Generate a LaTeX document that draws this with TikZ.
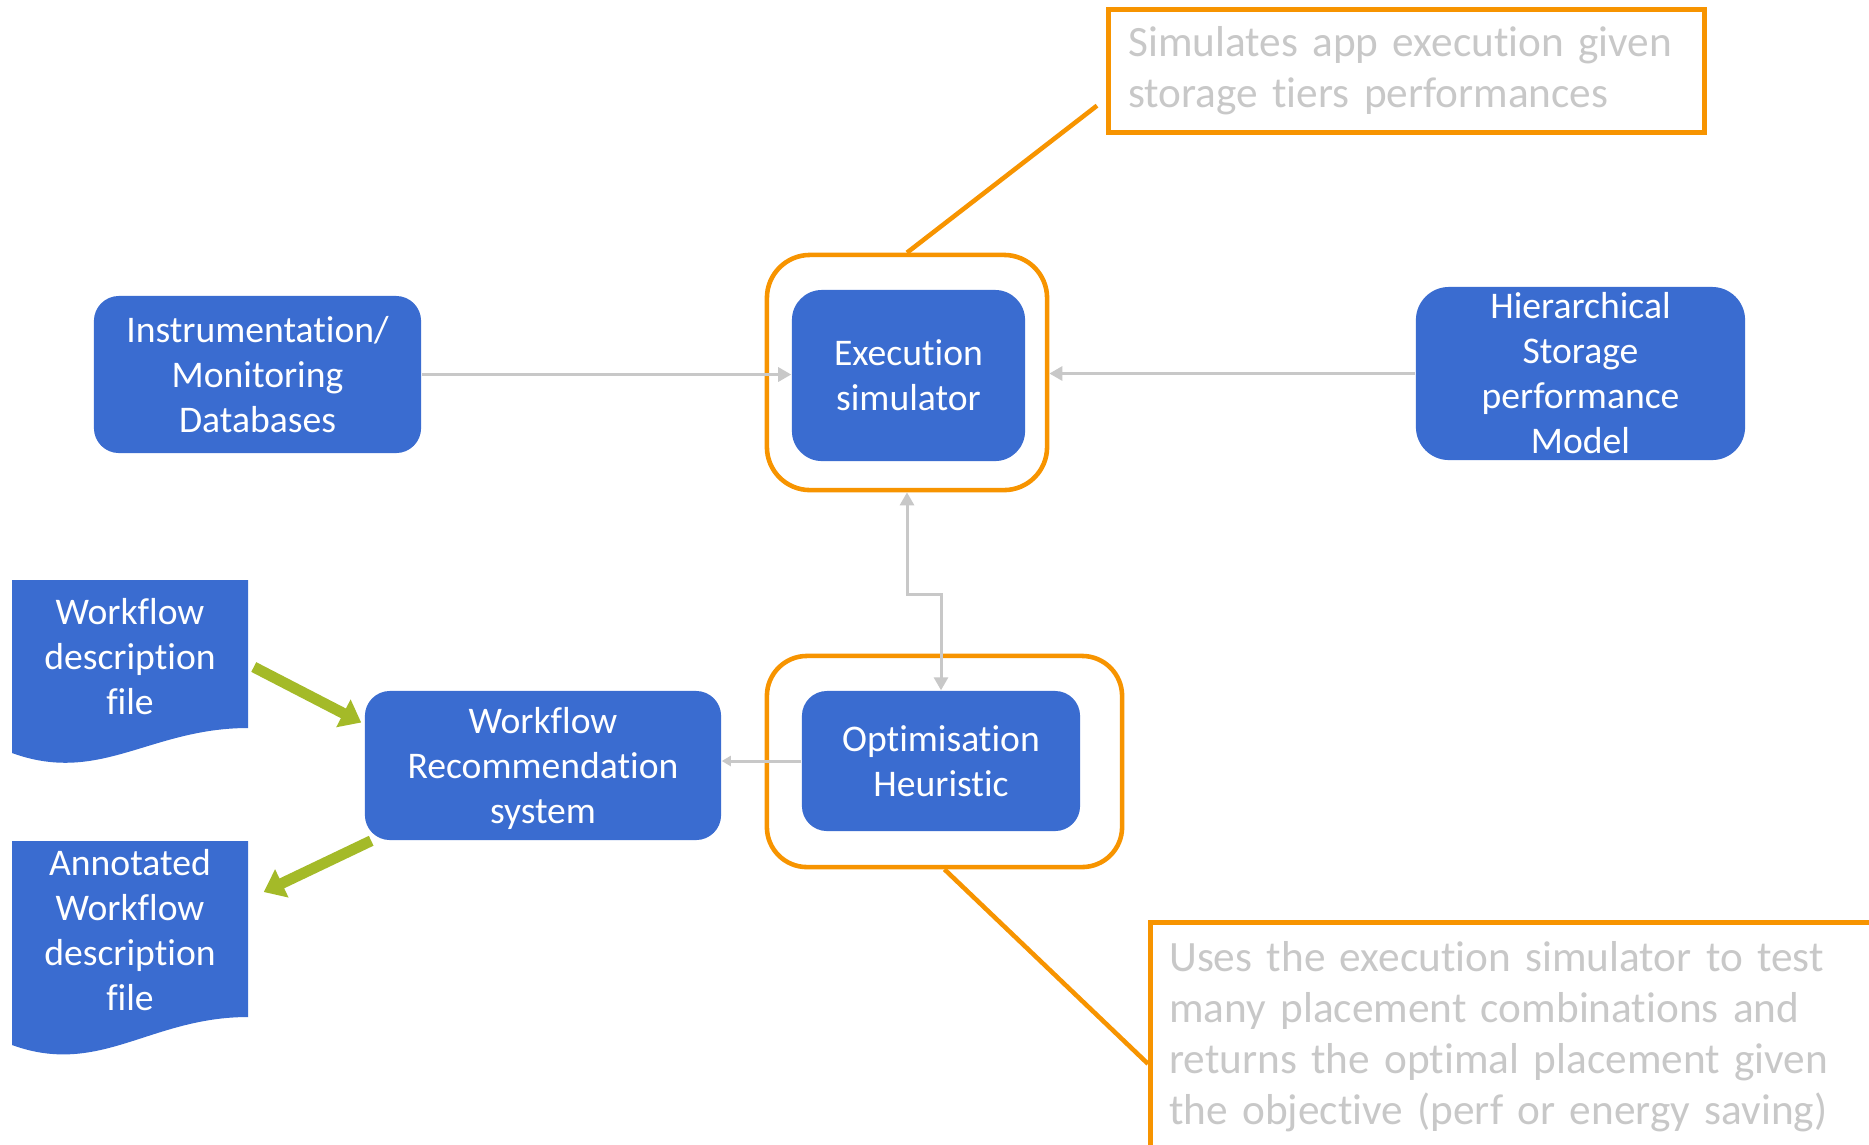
\documentclass[tikz,border=0pt]{standalone}
\usepackage{fontspec}
\setmainfont{Carlito}[RawFeature={-liga,-calt,-clig}]
\newfontfamily\notefont{Carlito}[RawFeature={-liga,-calt,-clig},WordSpace=0.8]
\usepackage{tikz}
\usetikzlibrary{arrows.meta,calc}

\definecolor{boxblue}{RGB}{58,108,208}
\definecolor{hiorange}{RGB}{247,148,0}
\definecolor{flowgreen}{RGB}{164,186,40}
\definecolor{linkgray}{RGB}{200,200,200}

\begin{document}
\begin{tikzpicture}[x=0.01cm,y=-0.01cm,
  block/.style={fill=boxblue,text=white,rounded corners=2.5mm,align=center,inner sep=0pt,
    font=\fontsize{10.7}{12.8}\selectfont},
  frame/.style={draw=hiorange,line width=1.3pt,rounded corners=4.3mm,inner sep=0pt},
  note/.style={draw=hiorange,line width=1.3pt,text=linkgray,align=left,inner ysep=0pt,
    anchor=north west,font=\notefont\fontsize{12.3}{14.5}\selectfont},
  link/.style={draw=linkgray,line width=0.85pt,-{Triangle[length=1.3mm,width=1.4mm]}},
  feed/.style={draw=flowgreen,line width=3.1pt,-{Triangle[length=2mm,width=3mm]}}]
\fill[white] (0,0) rectangle (1869,1144);
\useasboundingbox (0,0) rectangle (1869,1144);

% main blocks
\node[block,minimum width=3.27cm,minimum height=1.57cm] (instr) at (257.5,374.5) {Instrumentation/\\Monitoring\\Databases};
\node[frame,minimum width=2.80cm,minimum height=2.35cm] (simframe) at (907,372.5) {};
\node[block,minimum width=2.33cm,minimum height=1.71cm,rounded corners=3mm] (sim) at (908.5,375.5) {Execution\\simulator};
\node[block,minimum width=3.29cm,minimum height=1.73cm,rounded corners=3.3mm] (hsm) at (1580.5,373.5) {Hierarchical\\Storage\\performance\\Model};
\node[frame,minimum width=3.55cm,minimum height=2.11cm,rounded corners=4mm] (optframe) at (944.5,761.5) {};
\node[block,minimum width=2.78cm,minimum height=1.40cm] (opt) at (941,761) {Optimisation\\Heuristic};
\node[block,minimum width=3.56cm,minimum height=1.49cm,text depth=-6pt] (wrs) at (543,765.5) {Workflow\\Recommendation\\system};

% document shapes
\fill[boxblue] (12,580) -- (248,580) -- (248,728) .. controls (150,728) and (100,785) .. (12,753) -- cycle;
\node[block,fill=none,minimum width=2.36cm,minimum height=1.54cm] (wfd) at (130,657) {Workflow\\description\\file};
\fill[boxblue] (12,841) -- (248,841) -- (248,1017) .. controls (150,1017) and (100,1077) .. (12,1045) -- cycle;
\node[block,fill=none,minimum width=2.36cm,minimum height=1.76cm] (awd) at (130,930) {Annotated\\Workflow\\description\\file};

% callouts
\node[note,text width=5.56cm,inner xsep=0.2cm,minimum height=1.23cm] (simnote) at (1106,7) {Simulates app execution given\\storage tiers performances};
\node[note,text width=7.6cm,inner xsep=0.19cm,minimum height=2.29cm] (optnote) at (1148,920) {Uses the execution simulator to test\\many placement combinations and\\returns the optimal placement given\\the objective (perf or energy saving)};
\draw[hiorange,line width=1.3pt] (simframe.north) -- ($(simnote.south west)+(-9,-29)$);
\draw[hiorange,line width=1.3pt] (optframe.south) -- ($(optnote.west)+(0,27)$);

% connectors
\draw[link] (instr.east) -- (instr.east -| sim.west);
\draw[link] (hsm.west) -- (hsm.west -| simframe.east);
\draw[link,{Triangle[length=1.3mm,width=1.4mm]}-{Triangle[length=1.3mm,width=1.4mm]}] (simframe.south) -- ++(0,102) -| (opt.north);
\draw[link,-{Triangle[length=0.9mm,width=1mm]}] (opt.west) -- (opt.west -| wrs.east);
\draw[feed] ($(wfd.east)+(5,10)$) -- ($(wrs.west)+(-3,-43)$);
\draw[feed] ($(wrs.south west)+(7,0)$) -- ($(awd.east)+(15,-38)$);
\end{tikzpicture}
\end{document}
